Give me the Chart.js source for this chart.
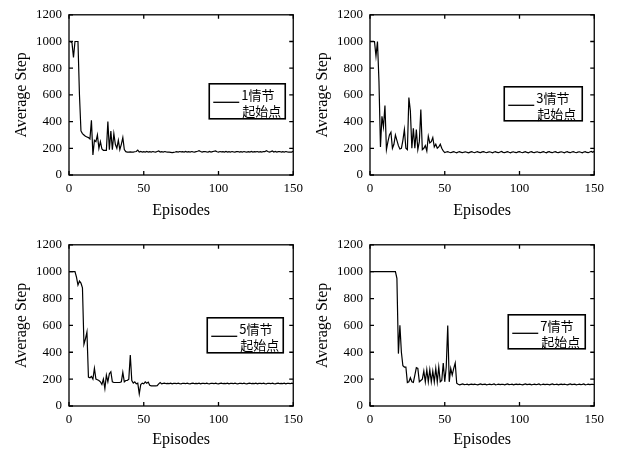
<!DOCTYPE html>
<html>
<head>
<meta charset="utf-8">
<script src="https://cdn.jsdelivr.net/npm/chart.js@4/dist/chart.umd.min.js"></script>
<style>
body { margin: 0; background: #fff; width: 618px; height: 449px; overflow: hidden; position: relative; }
canvas { position: absolute; }
</style>
</head>
<body>
<canvas id="c1" width="309" height="225" style="left:0px;top:0px"></canvas>
<canvas id="c2" width="309" height="225" style="left:301px;top:0px"></canvas>
<canvas id="c3" width="309" height="219" style="left:0px;top:230px"></canvas>
<canvas id="c4" width="309" height="219" style="left:301px;top:230px"></canvas>
<script>
// x positions: episode number 0..150
var episodes = [];
for (var i = 0; i <= 150; i++) episodes.push(i);

var xTicks = [0, 50, 100, 150];
var yTicks = [0, 200, 400, 600, 800, 1000, 1200];

// average steps, start point = episode 1
var steps1 = [1000,1000,990,880,1000,1000,1000,600,330,310,
  300,290,285,280,270,410,150,260,250,300,
  200,250,195,185,185,185,400,190,330,190,
  310,230,200,260,190,230,280,190,175,
  172,172,173,172,172,174,176,186,172,176,172,
  175,172,176,172,175,172,176,173,172,176,
  180,172,175,172,176,173,172,171,170,168,
  170,172,175,172,176,173,175,172,176,172,
  175,172,176,173,172,175,178,182,176,172,
  175,176,173,172,176,172,175,178,180,174,
  172,176,173,175,172,176,172,175,172,176,
  173,172,175,176,172,175,172,176,173,172,
  175,172,176,172,175,173,176,172,175,172,
  176,175,182,176,172,175,180,172,176,172,
  175,176,172,175,172,176,173,172,172,172,178];

// start point = episode 3
var steps3 = [1000,1000,1000,1000,890,1000,700,210,440,360,
  520,190,250,300,320,200,230,300,260,220,
  195,200,260,340,200,190,580,480,200,350,
  200,340,190,250,490,190,200,220,180,290,
  240,250,280,210,230,200,210,230,200,180,
  168,172,175,170,167,171,175,170,166,172,
  175,169,167,172,174,169,166,171,175,170,
  167,172,175,169,168,173,175,170,167,171,
  174,170,166,172,175,169,167,172,176,170,
  168,171,175,170,166,172,174,169,167,173,
  175,170,167,171,175,169,166,172,175,170,
  168,172,174,169,167,171,175,170,166,173,
  175,169,167,172,175,170,168,171,174,170,
  166,172,175,169,167,172,175,170,167,171,
  174,170,166,172,175,169,167,172,176,170,178];

// start point = episode 5
var steps5 = [1000,1000,1000,1000,1000,960,900,930,915,880,
  460,500,550,215,210,220,200,280,200,195,
  190,180,160,200,130,230,180,240,255,180,
  175,175,175,175,175,180,250,180,190,190,
  200,380,190,170,180,165,170,90,160,170,
  165,180,170,178,155,150,150,150,150,152,
  165,175,
  165,168,170,166,168,167,170,165,168,169,
  166,170,167,165,169,168,166,170,167,165,
  168,170,166,168,167,170,165,168,169,166,
  170,167,165,169,168,166,170,167,165,168,
  170,166,168,167,170,165,168,169,166,170,
  167,165,169,168,166,170,167,165,168,170,
  166,168,167,170,165,168,169,166,170,167,
  165,169,168,166,170,167,165,168,170,166,
  168,167,170,165,168,169,166,170,167];

// start point = episode 7
var steps7 = [1000,1000,1000,1000,1000,1000,1000,1000,1000,1000,
  1000,1000,1000,1000,1000,1000,1000,1000,950,390,
  600,400,300,290,290,175,180,210,180,175,
  230,285,280,180,190,200,260,180,270,180,
  270,180,260,180,280,180,290,180,190,320,
  180,290,600,180,280,230,280,320,170,
  162,158,161,164,159,160,163,158,161,163,
  159,162,160,157,161,164,159,161,163,158,
  160,162,159,161,164,158,160,163,159,161,
  162,158,161,164,159,160,163,158,161,163,
  159,162,160,157,161,164,159,161,163,158,
  160,162,159,161,164,158,160,163,159,161,
  162,158,161,164,159,160,163,158,161,163,
  159,162,160,157,161,164,159,161,163,158,
  160,162,159,161,164,158,160,163,159,161,
  162,158];

var legend1 = ['1情节', '起始点'];
var legend3 = ['3情节', '起始点'];
var legend5 = ['5情节', '起始点'];
var legend7 = ['7情节', '起始点'];

var serif = "'Liberation Serif', 'DejaVu Serif', serif";

// box round the plot, inward ticks on all sides, and the boxed legend
var frame = {
  id: 'frame',
  afterDatasetsDraw: function (chart, args, opts) {
    var a = chart.chartArea, c = chart.ctx;
    var xs = chart.scales.x, ys = chart.scales.y;
    c.save();
    c.strokeStyle = '#000';
    c.lineWidth = 1.3;
    c.strokeRect(a.left, a.top, a.right - a.left, a.bottom - a.top);
    c.beginPath();
    xs.ticks.forEach(function (t) {
      var px = xs.getPixelForValue(t.value);
      c.moveTo(px, a.bottom); c.lineTo(px, a.bottom - 4);
      c.moveTo(px, a.top); c.lineTo(px, a.top + 4);
    });
    ys.ticks.forEach(function (t) {
      var py = ys.getPixelForValue(t.value);
      c.moveTo(a.left, py); c.lineTo(a.left + 4, py);
      c.moveTo(a.right, py); c.lineTo(a.right - 4, py);
    });
    c.stroke();

    var bx = a.right - opts.gap - opts.w, by = a.top + opts.dy;
    c.fillStyle = '#fff';
    c.fillRect(bx, by, opts.w, opts.h);
    c.lineWidth = 1.6;
    c.strokeRect(bx, by, opts.w, opts.h);
    c.beginPath();
    c.lineWidth = 1.3;
    c.moveTo(bx + 4, by + 18.5); c.lineTo(bx + 30, by + 18.5);
    c.stroke();
    c.fillStyle = '#000';
    c.font = "13px 'Noto Sans CJK SC'";
    c.textBaseline = 'middle';
    c.textAlign = 'left';
    c.fillText(opts.text[0], bx + 32, by + 11);
    c.fillText(opts.text[1], bx + 33, by + 27.5);
    c.restore();
  }
};

function makeChart(id, steps, legendText, box, xHeight, titlePad) {
  var ctx = document.getElementById(id).getContext('2d');
  return new Chart(ctx, {
    type: 'line',
    data: {
      labels: episodes,
      datasets: [{
        label: legendText.join(''),
        data: steps,
        borderColor: '#000',
        borderWidth: 1.2,
        pointRadius: 0,
        tension: 0,
        fill: false
      }]
    },
    options: {
      responsive: false,
      animation: false,
      devicePixelRatio: 1,
      layout: { padding: { top: 13, right: 11, left: 0, bottom: 0 } },
      plugins: {
        legend: { display: false },
        tooltip: { enabled: false },
        frame: { text: legendText, gap: box[0], dy: box[1], w: box[2], h: box[3] }
      },
      scales: {
        x: {
          type: 'linear', min: 0, max: 150,
          afterBuildTicks: function (s) { s.ticks = xTicks.map(function (v) { return { value: v }; }); },
          afterFit: function (s) { s.height = xHeight; },
          grid: { display: false, drawTicks: false },
          border: { display: false },
          ticks: { color: '#000', font: { family: serif, size: 13 }, padding: 6, maxRotation: 0, autoSkip: false,
                   callback: function (v) { return String(v); } },
          title: { display: true, text: 'Episodes', color: '#000', font: { family: serif, size: 16 }, padding: { top: 0, bottom: titlePad } }
        },
        y: {
          min: 0, max: 1200,
          afterBuildTicks: function (s) { s.ticks = yTicks.map(function (v) { return { value: v }; }); },
          afterFit: function (s) { s.width = 69; },
          grid: { display: false, drawTicks: false },
          border: { display: false },
          ticks: { color: '#000', font: { family: serif, size: 13 }, padding: 7, autoSkip: false,
                   callback: function (v) { return String(v); } },
          title: { display: true, text: 'Average Step', color: '#000', font: { family: serif, size: 16 }, padding: { top: 12, bottom: 0 } }
        }
      }
    },
    plugins: [frame]
  });
}

makeChart('c1', steps1, legend1, [8, 69, 76, 35], 50, 5);
makeChart('c2', steps3, legend3, [12, 72, 78, 34], 50, 5);
makeChart('c3', steps5, legend5, [10, 73, 76, 35], 43, 0);
makeChart('c4', steps7, legend7, [9, 70, 77, 34], 43, 0);
</script>
</body>
</html>
